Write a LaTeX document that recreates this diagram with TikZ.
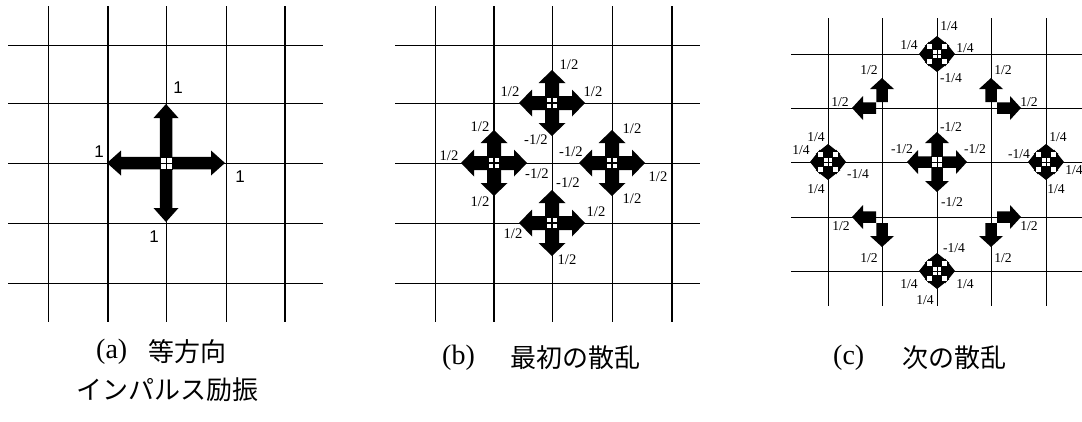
\documentclass[tikz,border=0pt]{standalone}
\usepackage{fontspec}
\setmainfont{Liberation Serif}
\newfontfamily\jpfont{Noto Sans CJK JP}
\newfontfamily\arialfont{Liberation Sans}
% arrow: x y angle start length shaftwidth headwidth headlength
\newcommand{\arrowshape}[8]{%
  \fill[shift={(#1,#2)},rotate=#3] (#4,{-#6/2}) -- ({#5-#8},{-#6/2}) -- ({#5-#8},{-#7/2}) -- (#5,0)
    -- ({#5-#8},{#7/2}) -- ({#5-#8},{#6/2}) -- (#4,{#6/2}) -- cycle;}
\newcommand{\crossarrows}[7]{%
  \foreach \aa in {0,90,180,270}{\arrowshape{#1}{#2}{\aa}{#3}{#4}{#5}{#6}{#7}}}
\newcommand{\junction}[4]{% x y size linewidth
  \filldraw[fill=white,draw=black,line width=#4] ({#1-#3/2},{#2-#3/2}) rectangle ({#1+#3/2},{#2+#3/2});
  \draw[line width=#4] ({#1-#3/2},#2) -- ({#1+#3/2},#2) (#1,{#2-#3/2}) -- (#1,{#2+#3/2});}
\newcommand{\checkers}[2]{% white squares diagonal to the junction of a small diamond
  \foreach \dx/\dy in {-1/-1,1/-1,-1/1,1/1}{
    \fill[white] ({#1+\dx*7.5-2.2},{#2+\dy*7.5-2.2}) rectangle ({#1+\dx*7.5+2.2},{#2+\dy*7.5+2.2});}}
\tikzset{
  gridline/.style={line width=1pt},
  thickgrid/.style={line width=1.8pt},
  lblA/.style={inner sep=0pt,font=\arialfont\fontsize{17}{17}\selectfont},
  lblB/.style={inner sep=0pt,font=\fontsize{14.6}{14.6}\selectfont},
  lblC/.style={inner sep=0pt,font=\fontsize{13.6}{13.6}\selectfont},
  capt/.style={inner sep=0pt,font=\fontsize{28}{28}\selectfont},
  captjp/.style={inner sep=0pt,font=\jpfont\fontsize{26}{26}\selectfont}
}
\begin{document}
\begin{tikzpicture}[x=1pt,y=-1pt]
\useasboundingbox (0,0) rectangle (1082,421);
% ---------------- panel (a) grid
\foreach \yy in {45,103,163,223,283}{\draw[gridline] (8,\yy) -- (323,\yy);}
\foreach \xx in {48,166,226}{\draw[gridline] (\xx,6) -- (\xx,322);}
\foreach \xx in {108,285}{\draw[thickgrid] (\xx,6) -- (\xx,322);}
% ---------------- panel (b) grid
\foreach \yy in {45,103,163,223,283}{\draw[gridline] (395,\yy) -- (700,\yy);}
\foreach \xx in {435,552,612}{\draw[gridline] (\xx,6) -- (\xx,322);}
\foreach \xx in {494,672}{\draw[thickgrid] (\xx,6) -- (\xx,322);}
% ---------------- panel (c) grid
\foreach \yy in {54,108,162,217,271}{\draw[gridline] (791,\yy) -- (1082,\yy);}
\foreach \xx in {828,882,937,991,1046}{\draw[gridline] (\xx,18) -- (\xx,306);}

% ---------------- (a) impulse
\crossarrows{166}{163}{6}{59}{12.5}{25}{14}
\junction{166}{163}{12}{1pt}
\node[lblA] (a1) at (178,88) {1};
\node[lblA] (a2) at (99,152) {1};
\node[lblA] (a3) at (240,177) {1};
\node[lblA] (a4) at (154,237) {1};

% ---------------- (b) first scattering
\foreach \cx/\cy in {552/103,494/163,612/163,552/223}{
  \crossarrows{\cx}{\cy}{6}{33}{14}{27}{13}
  \junction{\cx}{\cy}{12}{1.2pt}
}
\node[lblB] (b1) at (569,65) {1/2};
\node[lblB] (b2) at (510,92) {1/2};
\node[lblB] (b3) at (593,92) {1/2};
\node[lblB] (b4) at (536,140) {-1/2};
\node[lblB] (b5) at (480,127) {1/2};
\node[lblB] (b6) at (449,156) {1/2};
\node[lblB] (b7) at (537,174) {-1/2};
\node[lblB] (b8) at (480,202) {1/2};
\node[lblB] (b9) at (632,129) {1/2};
\node[lblB] (b10) at (571,152) {-1/2};
\node[lblB] (b11) at (658,177) {1/2};
\node[lblB] (b12) at (632,199) {1/2};
\node[lblB] (b13) at (568,183) {-1/2};
\node[lblB] (b14) at (596,212) {1/2};
\node[lblB] (b15) at (513,234) {1/2};
\node[lblB] (b16) at (567,260) {1/2};

% ---------------- (c) second scattering
\crossarrows{937}{162}{5.5}{30}{11.5}{24}{11}
\junction{937}{162}{11}{1pt}
% diamonds
\foreach \cx/\cy in {937/54,828/162,1046/162,937/271}{
  \crossarrows{\cx}{\cy}{4.5}{18}{11}{25}{10}
  \checkers{\cx}{\cy}
  \junction{\cx}{\cy}{9}{1pt}
}
% L-shaped pairs
\arrowshape{882}{108}{90}{6}{30}{11.5}{24}{11}
\arrowshape{882}{108}{180}{6}{30}{11.5}{24}{11}
\arrowshape{991}{108}{90}{6}{30}{11.5}{24}{11}
\arrowshape{991}{108}{0}{6}{30}{11.5}{24}{11}
\arrowshape{882}{217}{270}{6}{30}{11.5}{24}{11}
\arrowshape{882}{217}{180}{6}{30}{11.5}{24}{11}
\arrowshape{991}{217}{270}{6}{30}{11.5}{24}{11}
\arrowshape{991}{217}{0}{6}{30}{11.5}{24}{11}
\node[lblC] (c1) at (949,26) {1/4};
\node[lblC] (c2) at (909,45) {1/4};
\node[lblC] (c3) at (965,48) {1/4};
\node[lblC] (c4) at (951,78) {-1/4};
\node[lblC] (c5) at (869,70) {1/2};
\node[lblC] (c6) at (840,102) {1/2};
\node[lblC] (c7) at (1003,70) {1/2};
\node[lblC] (c8) at (1029,102) {1/2};
\node[lblC] (c9) at (951,127) {-1/2};
\node[lblC] (c10) at (902,149) {-1/2};
\node[lblC] (c11) at (975,149) {-1/2};
\node[lblC] (c12) at (816,137) {1/4};
\node[lblC] (c13) at (801,150) {1/4};
\node[lblC] (c14) at (858,174) {-1/4};
\node[lblC] (c15) at (816,189) {1/4};
\node[lblC] (c16) at (1058,137) {1/4};
\node[lblC] (c17) at (1019,154) {-1/4};
\node[lblC] (c18) at (1074,170) {1/4};
\node[lblC] (c19) at (1056,189) {1/4};
\node[lblC] (c20) at (952,202) {-1/2};
\node[lblC] (c21) at (841,226) {1/2};
\node[lblC] (c22) at (869,258) {1/2};
\node[lblC] (c23) at (1029,226) {1/2};
\node[lblC] (c24) at (1003,258) {1/2};
\node[lblC] (c25) at (954,248) {-1/4};
\node[lblC] (c26) at (909,284) {1/4};
\node[lblC] (c27) at (965,284) {1/4};
\node[lblC] (c28) at (925,300) {1/4};

% ---------------- captions
\node[capt,anchor=west] (capa0) at (96,352) {(a)};
\node[captjp,anchor=west] (capa1) at (148,352) {等方向};
\node[captjp] (capa2) at (167,390) {インパルス励振};
\node[capt,anchor=west] (capb0) at (442,358) {(b)};
\node[captjp,anchor=west] (capb1) at (510,358) {最初の散乱};
\node[capt,anchor=west] (capc0) at (833,358) {(c)};
\node[captjp,anchor=west] (capc1) at (902,358) {次の散乱};
\end{tikzpicture}
\end{document}
